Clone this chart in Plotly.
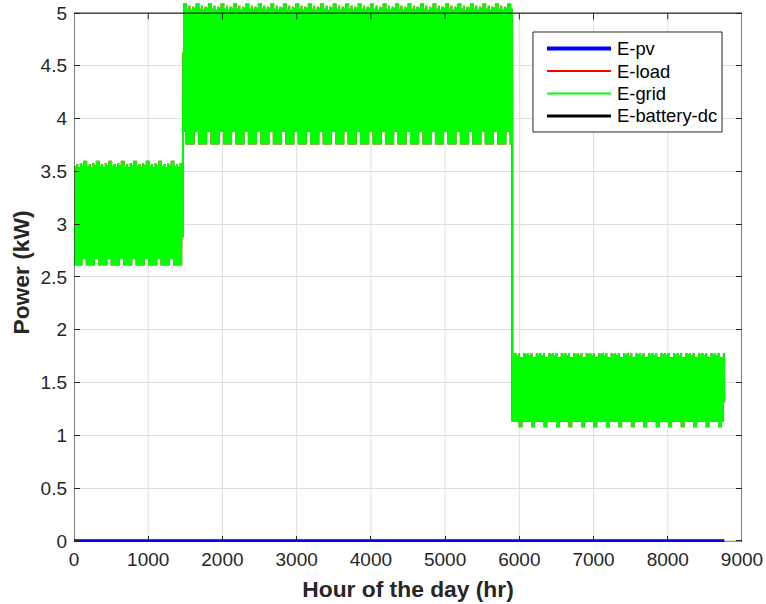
import numpy as np
import plotly.graph_objects as go

# ---- hourly energy flows over one year (kW) ----
DAYS_IN_YEAR = 365

# last day index (inclusive) of each tariff season
SEASON_LAST_DAY = [60, 245, 364]

# normalised shape of a day's demand, hour 0..23 (0 = daily minimum, 1 = daily peak)
DAY_SHAPE = [0.10, 0.05, 0.02, 0.00, 0.03, 0.15, 0.40, 0.62, 0.55, 0.45, 0.42, 0.40,
             0.43, 0.41, 0.38, 0.40, 0.50, 0.70, 0.90, 1.00, 0.92, 0.75, 0.50, 0.28]

# daily minimum / peak demand for each day of the week (Mon..Sun), per season
S1_DAY_MIN = [2.61, 2.61, 2.61, 2.61, 2.61, 2.67, 2.67]
S1_DAY_MAX = [3.55, 3.57, 3.54, 3.58, 3.56, 3.60, 3.60]
S2_DAY_MIN = [3.755, 3.755, 3.755, 3.755, 3.755, 3.875, 3.875]
S2_DAY_MAX = [5.04, 5.07, 5.03, 5.06, 5.05, 5.09, 5.09]
S3_DAY_MIN = [1.13, 1.13, 1.13, 1.13, 1.13, 1.077, 1.077]
S3_DAY_MAX = [1.78, 1.77, 1.78, 1.76, 1.78, 1.74, 1.74]

SEASON_DAY_MIN = [S1_DAY_MIN, S2_DAY_MIN, S3_DAY_MIN]
SEASON_DAY_MAX = [S1_DAY_MAX, S2_DAY_MAX, S3_DAY_MAX]

X_TICKS = [0, 1000, 2000, 3000, 4000, 5000, 6000, 7000, 8000, 9000]
Y_TICKS = [0, 0.5, 1, 1.5, 2, 2.5, 3, 3.5, 4, 4.5, 5]

# ---- assemble the hourly series ----
shape = np.array(DAY_SHAPE)
load_days = []
season = 0
for day in range(DAYS_IN_YEAR):
    while day > SEASON_LAST_DAY[season]:
        season += 1
    dow = day % 7
    lo = SEASON_DAY_MIN[season][dow]
    hi = SEASON_DAY_MAX[season][dow]
    load_days.append(lo + shape * (hi - lo))
e_load = np.concatenate(load_days)
hours = np.arange(1, e_load.size + 1)
e_pv = np.zeros_like(e_load)
e_batt = np.zeros_like(e_load)
e_grid = e_load - e_pv - e_batt

# (name, values, colour, plot width, legend width); legend order top-to-bottom
SERIES = [
    ("E-pv", e_pv, "#0000ff", 3, 4),
    ("E-load", e_load, "#ff0000", 2, 2),
    ("E-grid", e_grid, "#00ff00", 2, 2),
    ("E-battery-dc", e_batt, "#000000", 3, 3),
]
# drawing order: battery underneath, then load, grid, pv on top
DRAW_ORDER = [3, 1, 2, 0]

Y_LO, Y_HI, Y_TOP = -0.01, 5.095, 5.0
INK = "#262626"
GRID = "#dedede"
FONT = "Liberation Sans, Arial, sans-serif"

fig = go.Figure()
for i in DRAW_ORDER:
    name, vals, color, w, _ = SERIES[i]
    fig.add_trace(go.Scatter(x=hours, y=vals, mode="lines", name=name,
                             line=dict(color=color, width=w), showlegend=False))

shapes = []
annotations = []
# vertical grid lines stop at the top of the box
for xv in X_TICKS[1:-1]:
    shapes.append(dict(type="line", xref="x", yref="y", x0=xv, x1=xv, y0=Y_LO, y1=Y_TOP,
                       line=dict(color=GRID, width=1), layer="below"))
    # mirrored tick marks along the top edge
    shapes.append(dict(type="line", xref="x", yref="y", x0=xv, x1=xv, y0=Y_TOP, y1=Y_TOP - 0.06,
                       line=dict(color=INK, width=1), layer="above"))
# axes box
shapes.append(dict(type="rect", xref="x", yref="y", x0=0, x1=9000, y0=Y_LO, y1=Y_TOP,
                   line=dict(color=INK, width=1.2), fillcolor="rgba(0,0,0,0)", layer="above"))

# legend box (plot-area fractions)
LEG_X0, LEG_X1, LEG_Y0, LEG_Y1 = 0.6871, 0.9701, 0.7607, 0.9462
LEG_LINE_X0, LEG_LINE_X1, LEG_TEXT_X = 0.7081, 0.8039, 0.8099
LEG_ROW_Y = [0.9156, 0.8738, 0.8321, 0.7904]
shapes.append(dict(type="rect", xref="paper", yref="paper", x0=LEG_X0, x1=LEG_X1,
                   y0=LEG_Y0, y1=LEG_Y1, line=dict(color=INK, width=1),
                   fillcolor="white", layer="above"))
for (name, _, color, _, lw), ry in zip(SERIES, LEG_ROW_Y):
    shapes.append(dict(type="line", xref="paper", yref="paper", x0=LEG_LINE_X0,
                       x1=LEG_LINE_X1, y0=ry, y1=ry, line=dict(color=color, width=lw),
                       layer="above"))
    annotations.append(dict(xref="paper", yref="paper", x=LEG_TEXT_X, y=ry, text=name,
                            showarrow=False, xanchor="left", yanchor="middle",
                            font=dict(family=FONT, size=18.4, color="#000000")))

fig.update_layout(
    width=766, height=604,
    margin=dict(l=74, r=24, t=3, b=62),
    paper_bgcolor="white", plot_bgcolor="white",
    font=dict(family=FONT, color=INK, size=18),
    shapes=shapes,
    annotations=annotations,
    showlegend=False,
    xaxis=dict(range=[0, 9000], tickvals=X_TICKS, ticks="inside", ticklen=6,
               tickcolor=INK, showgrid=False, showline=False, zeroline=False,
               tickfont=dict(size=19, color=INK), ticklabelstandoff=4,
               title=dict(text="<b>Hour of the day (hr)</b>", font=dict(size=22.8, color=INK),
                          standoff=12)),
    yaxis=dict(range=[Y_LO, Y_HI], tickvals=Y_TICKS, ticks="inside", ticklen=6,
               tickcolor=INK, mirror="ticks", showgrid=True, gridcolor=GRID, gridwidth=1,
               showline=False, zeroline=False,
               tickfont=dict(size=19, color=INK), ticklabelstandoff=6,
               title=dict(text="<b>Power (kW)</b>", font=dict(size=22.8, color=INK),
                          standoff=4)),
)

fig.write_html("out.html")
